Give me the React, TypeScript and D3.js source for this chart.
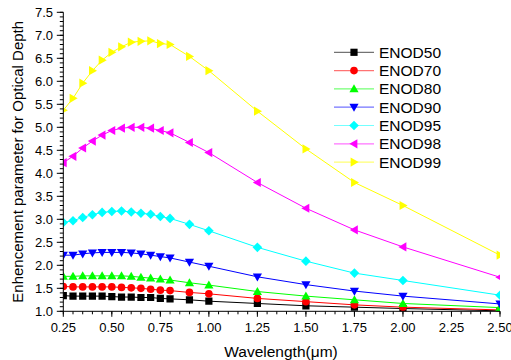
import React from "react";
import * as d3 from "d3";

const wavelengths = [0.25, 0.3, 0.35, 0.4, 0.45, 0.5, 0.55, 0.6, 0.65, 0.7, 0.75, 0.8, 0.9, 1.0, 1.25, 1.5, 1.75, 2.0, 2.5];

const enod50 = [1.34, 1.33, 1.33, 1.33, 1.33, 1.32, 1.31, 1.31, 1.30, 1.30, 1.28, 1.27, 1.25, 1.22, 1.17, 1.12, 1.09, 1.06, 1.01];
const enod70 = [1.54, 1.53, 1.53, 1.53, 1.53, 1.53, 1.52, 1.51, 1.50, 1.48, 1.46, 1.45, 1.41, 1.38, 1.28, 1.21, 1.14, 1.09, 1.03];
const enod80 = [1.76, 1.76, 1.77, 1.77, 1.77, 1.77, 1.77, 1.76, 1.74, 1.72, 1.70, 1.68, 1.62, 1.57, 1.43, 1.33, 1.25, 1.17, 1.08];
const enod90 = [2.22, 2.22, 2.25, 2.27, 2.28, 2.28, 2.28, 2.27, 2.25, 2.22, 2.19, 2.16, 2.07, 1.98, 1.75, 1.58, 1.44, 1.33, 1.16];
const enod95 = [2.93, 2.97, 3.04, 3.10, 3.15, 3.17, 3.18, 3.16, 3.13, 3.11, 3.06, 3.02, 2.89, 2.75, 2.39, 2.09, 1.83, 1.67, 1.35];
const enod98 = [4.23, 4.37, 4.55, 4.70, 4.83, 4.93, 4.98, 5.00, 5.00, 4.98, 4.93, 4.88, 4.67, 4.45, 3.80, 3.24, 2.77, 2.40, 1.74];
const enod99 = [5.37, 5.63, 5.96, 6.23, 6.46, 6.63, 6.75, 6.85, 6.87, 6.88, 6.82, 6.80, 6.54, 6.23, 5.35, 4.53, 3.80, 3.30, 2.22];

const seriesNames = ["ENOD50", "ENOD70", "ENOD80", "ENOD90", "ENOD95", "ENOD98", "ENOD99"];
const seriesValues = [enod50, enod70, enod80, enod90, enod95, enod98, enod99];
const seriesColors = ["#000000", "#ff0000", "#00ff00", "#0000ff", "#00ffff", "#ff00ff", "#ffff00"];
const seriesShapes = ["square", "circle", "up", "down", "diamond", "left", "right"];

const xTicks = [0.25, 0.5, 0.75, 1.0, 1.25, 1.5, 1.75, 2.0, 2.25, 2.5];
const yTicks = [1.0, 1.5, 2.0, 2.5, 3.0, 3.5, 4.0, 4.5, 5.0, 5.5, 6.0, 6.5, 7.0, 7.5];

const W = 511;
const H = 360;
const FONT = "Arial, 'Liberation Sans', sans-serif";

function markerPath(shape: string): string {
  switch (shape) {
    case "square":
      return "M-3.6,-3.6H3.6V3.6H-3.6Z";
    case "circle":
      return d3.symbol(d3.symbolCircle, 46)()!;
    case "up":
      return "M0,-4.6L4.6,3.4L-4.6,3.4Z";
    case "down":
      return "M0,4.6L4.6,-3.4L-4.6,-3.4Z";
    case "diamond":
      return "M0,-4.8L4.8,0L0,4.8L-4.8,0Z";
    case "left":
      return "M-4.6,0L3.4,-4.6L3.4,4.6Z";
    case "right":
      return "M4.6,0L-3.4,-4.6L-3.4,4.6Z";
  }
  return "";
}

export default function App() {
  const x = d3.scaleLinear().domain([0.25, 2.5]).range([63.3, 500]);
  const y = d3.scaleLinear().domain([1.0, 7.5]).range([311.3, 12.3]);
  const [x0, x1] = x.range();
  const [y0, y1] = y.range();

  const xMinor = d3.range(0.25, 2.5001, 0.05);
  const yMinor = d3.range(1.0, 7.5001, 0.1);

  const line = d3
    .line<number>()
    .x((_, i) => x(wavelengths[i]))
    .y((v) => y(v));

  return (
    <svg
      width={W}
      height={H}
      style={{ position: "fixed", left: 0, top: 0, background: "#fff" }}
      fontFamily={FONT}
    >
      <defs>
        <clipPath id="plotclip">
          <rect x={x0} y={y1} width={x1 - x0} height={y0 - y1} />
        </clipPath>
      </defs>

      <g clipPath="url(#plotclip)">
        {seriesValues.map((vals, si) => (
          <g key={seriesNames[si]}>
            <path d={line(vals)!} fill="none" stroke={seriesColors[si]} strokeWidth={1} />
            {vals.map((v, i) => (
              <path
                key={i}
                d={markerPath(seriesShapes[si])}
                transform={`translate(${x(wavelengths[i])},${y(v)})`}
                fill={seriesColors[si]}
              />
            ))}
          </g>
        ))}
      </g>

      {/* axes */}
      <line x1={x0} x2={x1} y1={y0} y2={y0} stroke="#000" strokeWidth={1} />
      <line x1={x0} x2={x0} y1={y0} y2={y1} stroke="#000" strokeWidth={1} />

      {xMinor.map((t, i) => (
        <line key={"xm" + i} x1={x(t)} x2={x(t)} y1={y0} y2={y0 + 3} stroke="#000" strokeWidth={1} />
      ))}
      {xTicks.map((t) => (
        <g key={"xt" + t}>
          <line x1={x(t)} x2={x(t)} y1={y0} y2={y0 + 5.5} stroke="#000" strokeWidth={1} />
          <text x={x(t)} y={332} textAnchor="middle" fontSize={13} fill="#000">
            {t.toFixed(2)}
          </text>
        </g>
      ))}

      {yMinor.map((t, i) => (
        <line key={"ym" + i} x1={x0 - 3.5} x2={x0} y1={y(t)} y2={y(t)} stroke="#000" strokeWidth={1} />
      ))}
      {yTicks.map((t) => (
        <g key={"yt" + t}>
          <line x1={x0 - 6.5} x2={x0} y1={y(t)} y2={y(t)} stroke="#000" strokeWidth={1} />
          <text x={53} y={y(t) + 4.6} textAnchor="end" fontSize={13} fill="#000">
            {t.toFixed(1)}
          </text>
        </g>
      ))}

      <text x={281} y={357} textAnchor="middle" fontSize={15.5} fill="#000">
        Wavelength(μm)
      </text>
      <text
        transform={`translate(23,${(y0 + y1) / 2}) rotate(-90)`}
        textAnchor="middle"
        fontSize={15}
        fill="#000"
      >
        Enhencement parameter for Optical Depth
      </text>

      {/* legend */}
      {seriesNames.map((name, si) => {
        const ly = 52.3 + si * 18.3;
        return (
          <g key={"lg" + name}>
            <line x1={334} x2={374} y1={ly} y2={ly} stroke={seriesColors[si]} strokeOpacity={0.55} strokeWidth={1.2} />
            <path d={markerPath(seriesShapes[si])} transform={`translate(354,${ly})`} fill={seriesColors[si]} />
            <text x={379} y={ly + 5.5} fontSize={15.5} fill="#000">
              {name}
            </text>
          </g>
        );
      })}
    </svg>
  );
}
